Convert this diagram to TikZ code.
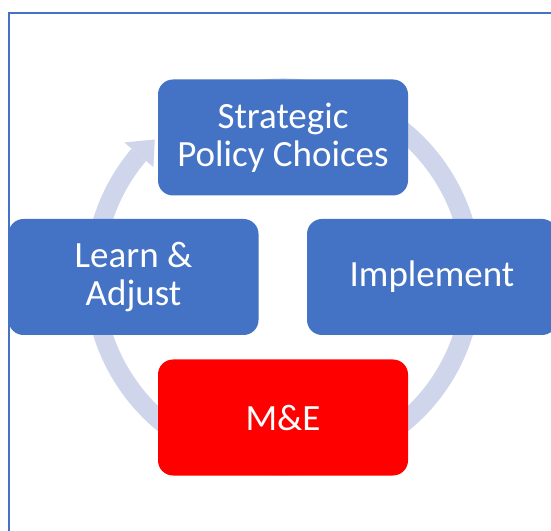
\documentclass[tikz,border=0pt]{standalone}
\usepackage{fontspec}
\setmainfont{Carlito}
\usetikzlibrary{arrows.meta}
\definecolor{boxblue}{HTML}{4472C4}
\definecolor{boxred}{HTML}{FF0000}
\definecolor{ring}{HTML}{CFD5EA}
\begin{document}
\begin{tikzpicture}[x=1pt,y=1pt,
  cyclebox/.style={rounded corners=15pt, minimum width=250pt, minimum height=116pt,
    inner sep=0pt, align=center, text=white, font=\fontsize{37}{38}\selectfont},
  bluebox/.style={cyclebox, fill=boxblue},
  redbox/.style={cyclebox, fill=boxred}]
\clip (0,0) rectangle (551,530);
\fill[white] (0,0) rectangle (551,530);
% frame
\draw[boxblue, line width=2pt] (8.5,-20) rectangle (580,517);
% ring
\coordinate (c) at (283,253);
\draw[ring, line width=19pt] ([shift={(120:189)}]c) arc[start angle=120, end angle=-220.3, radius=189];
\fill[ring] ([shift={(133:188)}]c) -- ([shift={(139.7:208)}]c) -- ([shift={(139.7:170)}]c) -- cycle;
% boxes
\node[bluebox] (strat) at (283,392.5) {Strategic\\Policy Choices};
\node[bluebox] (impl) at (432,253) {Implement};
\node[redbox] (me) at (283,112.5) {M\&E};
\node[bluebox] (learn) at (133.5,253) {Learn \&\\Adjust};
\end{tikzpicture}
\end{document}
